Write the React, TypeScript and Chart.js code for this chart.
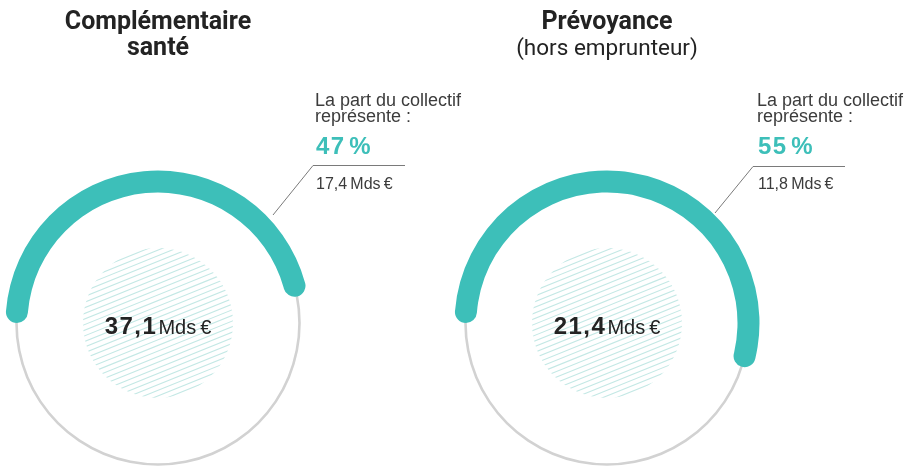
import React, { useEffect, useRef } from "react";
import { Chart, registerables } from "chart.js";

Chart.register(...registerables);

// ---- Data ----
const TITLE_BOLD_LINES: string[][] = [["Complémentaire", "santé"], ["Prévoyance"]];
const TITLE_SUB: string[] = ["", "(hors emprunteur)"];
const TOTAL_MDS: number[] = [37.1, 21.4];
const COLLECTIF_MDS: number[] = [17.4, 11.8];
const COLLECTIF_SHARE: number[] = [47, 55];
const LABEL_LINES: string[] = ["La part du collectif", "représente :"];
const UNIT = "Mds\u202F€";

// ---- Styles / layout ----
const TEAL = "#3dbfb9";
const GREY = "#d2d2d2";
const HATCH = "#c4e8e5";
const TEXT = "#232323";
const SOFT_TEXT = "#3c3c3c";
const RING_R = 141.5;
const TEAL_W = 22;
const GREY_W = 2.6;
const HATCH_R = 75;
const CANVAS = 312;
const CENTERS = [
  { x: 158, y: 323 },
  { x: 607, y: 323 },
];
const LABEL_X = [315, 757];
const LEADERS = [
  "405,165.5 313,165.5 273,215",
  "845,166.5 753,166.5 715,213",
];

const fmt = (n: number) => n.toFixed(1).replace(".", ",");

const hatchPlugin = {
  id: "hatch",
  beforeDatasetsDraw(chart: any) {
    const { ctx, chartArea } = chart;
    const cx = (chartArea.left + chartArea.right) / 2;
    const cy = (chartArea.top + chartArea.bottom) / 2;
    ctx.save();
    ctx.beginPath();
    ctx.arc(cx, cy, HATCH_R, 0, Math.PI * 2);
    ctx.clip();
    ctx.strokeStyle = HATCH;
    ctx.lineWidth = 1.1;
    const th = (22 * Math.PI) / 180;
    const dx = Math.cos(th), dy = -Math.sin(th);
    const nx = Math.sin(th), ny = Math.cos(th);
    const step = 5.2;
    for (let k = -20; k <= 20; k++) {
      const px = cx + nx * k * step;
      const py = cy + ny * k * step;
      ctx.beginPath();
      ctx.moveTo(px - dx * (HATCH_R + 10), py - dy * (HATCH_R + 10));
      ctx.lineTo(px + dx * (HATCH_R + 10), py + dy * (HATCH_R + 10));
      ctx.stroke();
    }
    ctx.restore();
  },
};

function Donut({ index }: { index: number }) {
  const ref = useRef<HTMLCanvasElement>(null);
  useEffect(() => {
    if (!ref.current) return;
    const share = COLLECTIF_SHARE[index];
    const R0 = RING_R + TEAL_W / 2;
    const c0 = 1 - (2 * TEAL_W) / R0;
    const R1 = RING_R + 1.5 * GREY_W;
    const c1 = 1 - (2 * GREY_W) / R1;
    const chart = new Chart(ref.current, {
      type: "doughnut",
      data: {
        labels: ["Collectif", "Autre"],
        datasets: [
          {
            data: [share, 100 - share],
            backgroundColor: [TEAL, "rgba(0,0,0,0)"],
            borderWidth: 0,
            borderRadius: [TEAL_W / 2, 0],
            radius: R0,
            cutout: c0 * 100 + "%",
            weight: 1,
          } as any,
          {
            data: [100],
            backgroundColor: [GREY],
            borderWidth: 0,
            radius: R1,
            cutout: c1 * 100 + "%",
            weight: 1,
          } as any,
        ],
      },
      options: {
        responsive: false,
        maintainAspectRatio: false,
        animation: false,
        events: [],
        rotation: -90,
        circumference: 360,
        layout: { padding: 0 },
        plugins: {
          legend: { display: false },
          tooltip: { enabled: false },
          title: { display: false },
        },
      } as any,
      plugins: [hatchPlugin],
    });
    return () => chart.destroy();
  }, [index]);
  const c = CENTERS[index];
  return (
    <canvas
      ref={ref}
      width={CANVAS}
      height={CANVAS}
      style={{
        position: "absolute",
        left: c.x - CANVAS / 2,
        top: c.y - CANVAS / 2,
        width: CANVAS,
        height: CANVAS,
      }}
    />
  );
}

export default function App() {
  return (
    <div
      style={{
        position: "fixed",
        left: 0,
        top: 0,
        width: 918,
        height: 467,
        overflow: "hidden",
        background: "#fff",
      }}
    >
      {[0, 1].map((i) => (
        <Donut key={i} index={i} />
      ))}
      <svg
        width={918}
        height={467}
        style={{ position: "absolute", left: 0, top: 0, pointerEvents: "none" }}
      >
        {LEADERS.map((p, i) => (
          <polyline key={i} points={p} fill="none" stroke="#7a7a7a" strokeWidth={1} />
        ))}
      </svg>
      {[0, 1].map((i) => {
        const c = CENTERS[i];
        const lines = TITLE_BOLD_LINES[i];
        return (
          <React.Fragment key={"t" + i}>
            {lines.map((ln, j) => (
              <div
                key={j}
                style={{
                  position: "absolute",
                  left: c.x - 160,
                  width: 320,
                  top: 7.5 + j * 26,
                  textAlign: "center",
                  fontFamily: "Roboto, sans-serif",
                  fontWeight: 700,
                  fontSize: 25,
                  lineHeight: "26px",
                  color: TEXT,
                  whiteSpace: "nowrap",
                }}
              >
                {ln}
              </div>
            ))}
            {TITLE_SUB[i] && (
              <div
                style={{
                  position: "absolute",
                  left: c.x - 160,
                  width: 320,
                  top: 8 + lines.length * 26,
                  textAlign: "center",
                  fontFamily: "Roboto, sans-serif",
                  fontWeight: 400,
                  fontSize: 22.5,
                  lineHeight: "26px",
                  color: TEXT,
                  whiteSpace: "nowrap",
                }}
              >
                {TITLE_SUB[i]}
              </div>
            )}
            {/* annotation */}
            <div
              style={{
                position: "absolute",
                left: LABEL_X[i],
                top: 91.7,
                fontFamily: "'Liberation Sans', Arial, sans-serif",
                fontSize: 18,
                lineHeight: "16px",
                color: SOFT_TEXT,
                whiteSpace: "nowrap",
              }}
            >
              {LABEL_LINES.map((l, j) => (
                <div key={j}>{l}</div>
              ))}
            </div>
            <div
              style={{
                position: "absolute",
                left: LABEL_X[i] + 1,
                top: 133.7,
                fontFamily: "'Liberation Sans', Arial, sans-serif",
                fontWeight: 700,
                fontSize: 24,
                lineHeight: "24px",
                letterSpacing: 1.5,
                color: TEAL,
                whiteSpace: "nowrap",
              }}
            >
              {COLLECTIF_SHARE[i] + "\u200A%"}
            </div>
            <div
              style={{
                position: "absolute",
                left: LABEL_X[i] + 1,
                top: 175.5,
                fontFamily: "'Liberation Sans', Arial, sans-serif",
                fontSize: 16,
                lineHeight: "16px",
                color: SOFT_TEXT,
                whiteSpace: "nowrap",
              }}
            >
              {fmt(COLLECTIF_MDS[i]) + "\u202F" + UNIT}
            </div>
            {/* center total */}
            <div
              style={{
                position: "absolute",
                left: c.x - 100,
                width: 200,
                top: 310.5,
                textAlign: "center",
                fontFamily: "'Liberation Sans', Arial, sans-serif",
                fontWeight: 700,
                fontSize: 24,
                lineHeight: "30px",
                color: TEXT,
                whiteSpace: "nowrap",
              }}
            >
              <span style={{ letterSpacing: 1.5 }}>{fmt(TOTAL_MDS[i])}</span>
              <span
                style={{
                  fontWeight: 400,
                  fontSize: 20,
                  marginLeft: 1,
                }}
              >
                {UNIT}
              </span>
            </div>
          </React.Fragment>
        );
      })}
    </div>
  );
}
